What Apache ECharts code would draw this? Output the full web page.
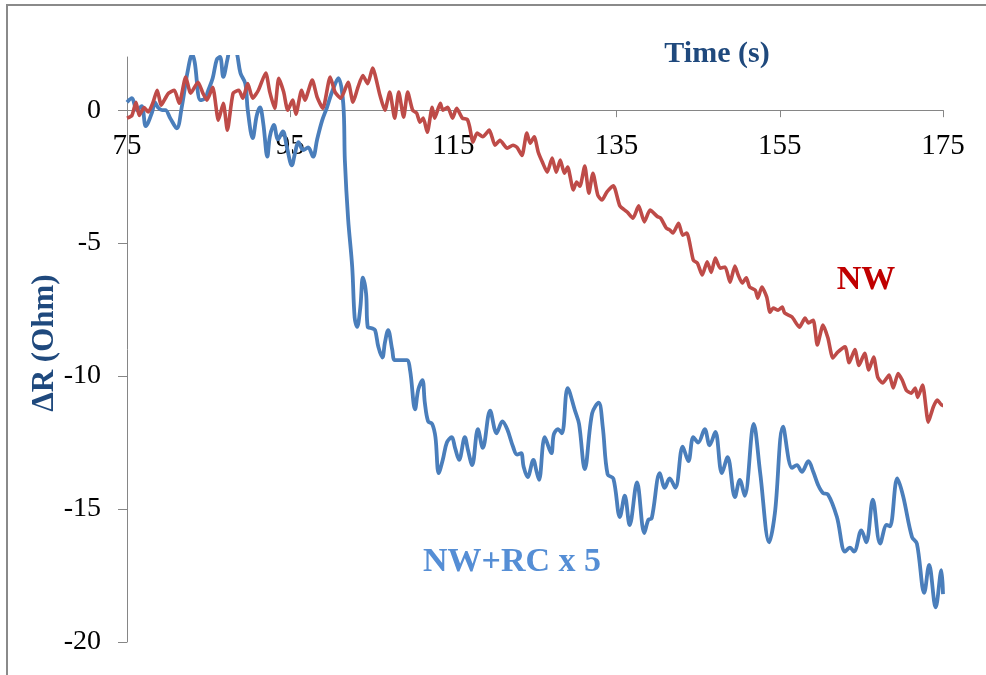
<!DOCTYPE html>
<html>
<head>
<meta charset="utf-8">
<script src="https://cdn.jsdelivr.net/npm/echarts@6/dist/echarts.min.js"></script>
<style>
html,body{margin:0;padding:0;background:#fff;}
#chart{width:986px;height:675px;}
</style>
</head>
<body>
<div id="chart"></div>
<script>
// ---- data ----
var xTicks = [75, 95, 115, 135, 155, 175];
var yTicks = [-20, -15, -10, -5, 0];

// NW+RC x 5 (blue)
var blueT = [75.0,75.6,76.2,76.8,77.3,78.1,78.4,78.8,79.3,79.7,80.3,81.1,81.7,82.4,83.0,83.3,84.0,84.6,84.9,85.5,86.0,86.4,86.8,87.3,87.6,88.1,88.5,88.9,89.5,89.8,90.4,90.9,91.3,91.7,92.2,92.5,93.0,93.5,94.1,94.6,95.2,95.6,96.0,96.6,97.2,97.8,98.3,98.9,99.5,100.2,100.9,101.5,101.7,102.1,102.6,102.9,103.2,103.6,103.9,104.3,104.5,105.0,105.4,105.8,106.3,106.6,107.0,107.5,107.8,108.5,109.3,109.7,110.3,110.7,111.2,111.5,111.9,112.4,112.8,113.2,113.7,114.2,114.8,115.2,115.7,116.4,116.8,117.3,118.0,118.6,119.5,120.3,121.0,121.6,122.3,122.8,123.3,123.6,124.1,124.8,125.2,125.5,126.2,127.0,127.3,127.8,128.3,129.0,129.9,130.4,131.1,132.0,132.8,133.3,133.9,134.6,135.4,136.0,136.6,137.5,138.4,138.9,139.3,140.3,140.9,141.5,142.2,143.1,143.8,144.4,145.0,145.8,146.4,147.1,147.9,148.6,149.5,150.1,150.7,151.8,152.6,153.7,154.4,155.4,156.5,157.1,157.7,158.5,159.1,159.7,160.3,160.9,162.0,163.0,163.6,164.1,165.0,165.6,166.4,167.3,168.1,168.5,169.4,170.1,171.2,171.8,172.7,173.3,174.1,174.8,175.0];
var blueV = [0.3,0.45,0.0,0.15,-0.6,-0.05,0.3,0.1,0.0,0.0,-0.3,-0.68,0.1,1.4,2.1,1.8,0.38,0.45,0.7,1.2,1.9,2.0,1.25,1.9,2.3,2.5,2.1,1.4,1.0,0.0,-1.05,-0.2,0.1,-0.5,-1.75,-1.0,-0.55,-1.1,-0.8,-1.4,-2.07,-1.6,-1.2,-1.5,-1.4,-1.75,-1.1,-0.4,0.1,0.75,1.2,0.26,-1.9,-4.1,-5.9,-7.8,-8.15,-7.4,-6.3,-6.9,-8.15,-8.2,-8.27,-8.9,-9.3,-8.75,-8.27,-9.0,-9.4,-9.4,-9.4,-9.8,-11.25,-10.5,-10.15,-11.0,-11.7,-11.8,-12.3,-13.65,-13.15,-12.5,-12.3,-12.7,-13.15,-12.3,-12.8,-13.35,-12.0,-12.7,-11.3,-12.15,-11.7,-12.0,-12.65,-12.95,-12.9,-13.4,-13.8,-13.15,-13.6,-13.9,-12.3,-12.9,-12.2,-12.0,-12.15,-10.45,-11.3,-11.8,-13.5,-11.4,-11.0,-11.9,-13.7,-13.85,-15.3,-14.5,-15.6,-14.0,-15.9,-15.4,-15.35,-13.65,-14.2,-13.85,-14.2,-12.65,-13.2,-12.3,-12.5,-12.0,-12.6,-12.1,-13.65,-13.05,-14.55,-13.9,-14.5,-11.8,-13.65,-16.25,-15.15,-11.9,-13.45,-13.35,-13.6,-13.2,-13.6,-14.1,-14.4,-14.45,-15.3,-16.6,-16.45,-16.6,-15.8,-16.25,-14.65,-16.3,-15.6,-15.65,-13.85,-14.5,-16.05,-16.3,-18.15,-17.1,-18.7,-17.3,-18.2];

// NW (red)
var redT = [75.0,75.6,76.1,76.5,77.1,77.6,78.2,78.7,79.2,79.7,80.1,80.8,81.4,82.2,82.8,83.7,84.3,84.8,85.5,86.2,86.8,87.3,88.0,88.7,89.2,89.8,90.4,91.1,92.0,92.5,93.1,93.6,94.2,94.7,95.3,95.7,96.4,96.8,97.7,98.3,99.0,99.9,100.5,101.2,102.1,102.7,103.3,103.9,104.5,105.1,106.0,106.6,107.2,107.8,108.3,108.9,109.4,110.0,110.5,110.9,111.3,111.8,112.4,112.7,113.4,113.7,114.3,114.9,115.4,116.1,116.7,117.0,117.4,117.9,118.6,119.4,120.1,120.7,121.6,122.3,122.8,123.4,124.0,124.4,124.9,125.4,125.9,126.5,127.1,127.6,128.1,128.6,129.0,129.7,130.1,130.5,131.1,131.6,132.1,132.7,133.2,133.8,134.6,135.4,136.3,137.0,137.7,138.4,139.1,140.0,140.4,141.1,141.5,141.9,142.6,143.1,143.6,144.4,144.9,145.5,146.1,146.6,147.1,147.7,148.3,148.9,149.5,149.9,150.4,150.9,151.3,152.0,152.3,152.8,153.4,153.8,154.2,154.8,155.3,155.6,156.5,157.4,158.1,158.5,159.1,159.6,160.3,160.9,161.5,162.1,163.0,163.5,164.2,164.7,165.4,165.9,166.5,167.0,167.6,168.4,168.9,169.5,170.0,170.5,171.1,171.6,171.9,172.5,173.2,173.8,174.3,174.9,175.0];
var redV = [-0.3,-0.2,0.3,-0.2,0.1,-0.07,0.3,0.75,0.19,0.45,0.64,0.75,0.26,1.25,0.64,1.05,0.64,0.38,0.86,-0.38,0.26,-0.75,0.64,0.75,0.45,1.0,0.45,0.75,1.4,0.68,0.07,1.2,0.68,0.0,0.38,-0.15,0.75,0.38,1.13,0.49,0.07,1.25,0.68,0.45,1.05,0.3,0.86,1.3,1.0,1.58,0.56,0.0,0.68,-0.3,0.68,-0.26,0.68,0.0,-0.11,-0.45,-0.3,-0.83,0.11,-0.3,0.26,0.0,0.11,-0.3,0.07,-0.3,-0.35,-0.64,-1.2,-0.86,-1.0,-0.75,-1.32,-1.13,-1.43,-1.32,-1.4,-1.7,-0.86,-1.24,-1.0,-1.58,-1.95,-2.33,-1.8,-2.33,-1.88,-2.37,-2.14,-3.0,-2.7,-2.86,-2.1,-3.12,-2.37,-3.2,-3.38,-3.08,-2.84,-3.6,-3.83,-4.06,-3.6,-4.2,-3.76,-4.0,-4.06,-4.44,-4.5,-4.62,-4.25,-4.7,-4.62,-5.64,-5.75,-6.2,-5.7,-6.1,-5.56,-5.94,-5.9,-6.47,-5.86,-6.2,-6.5,-6.3,-6.65,-6.77,-7.07,-6.65,-7.03,-7.6,-7.44,-7.52,-7.4,-7.63,-7.78,-8.16,-7.82,-8.0,-7.9,-8.83,-8.08,-8.57,-9.32,-9.1,-8.9,-9.5,-9.0,-9.6,-9.14,-9.77,-9.28,-10.04,-10.26,-9.96,-10.45,-9.9,-10.15,-10.53,-10.64,-10.45,-10.8,-10.34,-11.73,-11.17,-10.9,-11.1,-11.1];

function pairs(t, v) { return t.map(function (x, i) { return [x, v[i]]; }); }

var serif = "'Liberation Serif','Times New Roman',serif";
var axisGray = '#868686';

// grid geometry
var gridTop = 57, gridBottom = 33, yMin = -20, yMax = 2;
var plotH = 675 - gridTop - gridBottom;
// move the x axis (line, ticks, labels) up to y = 0
var xOffset = -plotH * (0 - yMin) / (yMax - yMin);

var chart = echarts.init(document.getElementById('chart'), null, { renderer: 'canvas' });
chart.setOption({
  animation: false,
  backgroundColor: '#fff',
  grid: { left: 127, right: 43, top: gridTop, bottom: gridBottom, containLabel: false, outerBoundsMode: 'none' },
  xAxis: {
    type: 'value', min: 75, max: 175, interval: 20, position: 'bottom', offset: xOffset,
    axisLine: { show: true, onZero: false, lineStyle: { color: axisGray, width: 1 } },
    axisTick: { show: true, length: 7, inside: false, customValues: xTicks, lineStyle: { color: axisGray } },
    axisLabel: { show: true, customValues: xTicks, margin: 22, fontFamily: serif, fontSize: 29, color: '#000' },
    splitLine: { show: false }
  },
  yAxis: {
    type: 'value', min: yMin, max: yMax, interval: 5,
    axisLine: { show: true, onZero: false, lineStyle: { color: axisGray, width: 1 } },
    axisTick: { show: true, length: 9, customValues: yTicks, lineStyle: { color: axisGray } },
    axisLabel: { show: true, customValues: yTicks, margin: 26, fontFamily: serif, fontSize: 28, color: '#000' },
    splitLine: { show: false }
  },
  series: [
    {
      name: 'NW+RC x 5', type: 'line', data: pairs(blueT, blueV),
      showSymbol: false, symbol: 'none', smooth: 0.35, clip: true,
      lineStyle: { color: '#4A7EBB', width: 3.8 }, z: 2
    },
    {
      name: 'NW', type: 'line', data: pairs(redT, redV),
      showSymbol: false, symbol: 'none', smooth: 0.2, clip: true,
      lineStyle: { color: '#BE4B48', width: 3.6 }, z: 3
    }
  ],
  graphic: [
    { type: 'rect', shape: { x: 7, y: 5, width: 1000, height: 700 }, style: { fill: 'none', stroke: '#8a8a8a', lineWidth: 2 }, silent: true, z: -1 },
    { type: 'text', x: 717, y: 54, style: { text: 'Time (s)', font: 'bold 30px ' + serif, fill: '#1F497D', textAlign: 'center', textVerticalAlign: 'middle' } },
    { type: 'text', x: 45, y: 343, rotation: Math.PI / 2, style: { text: 'ΔR (Ohm)', font: 'bold 31px ' + serif, fill: '#1F497D', textAlign: 'center', textVerticalAlign: 'middle' } },
    { type: 'text', x: 866, y: 280, style: { text: 'NW', font: 'bold 34px ' + serif, fill: '#C00000', textAlign: 'center', textVerticalAlign: 'middle' } },
    { type: 'text', x: 512, y: 562, style: { text: 'NW+RC x 5', font: 'bold 34px ' + serif, fill: '#558ED5', textAlign: 'center', textVerticalAlign: 'middle' } }
  ]
});
</script>
</body>
</html>
